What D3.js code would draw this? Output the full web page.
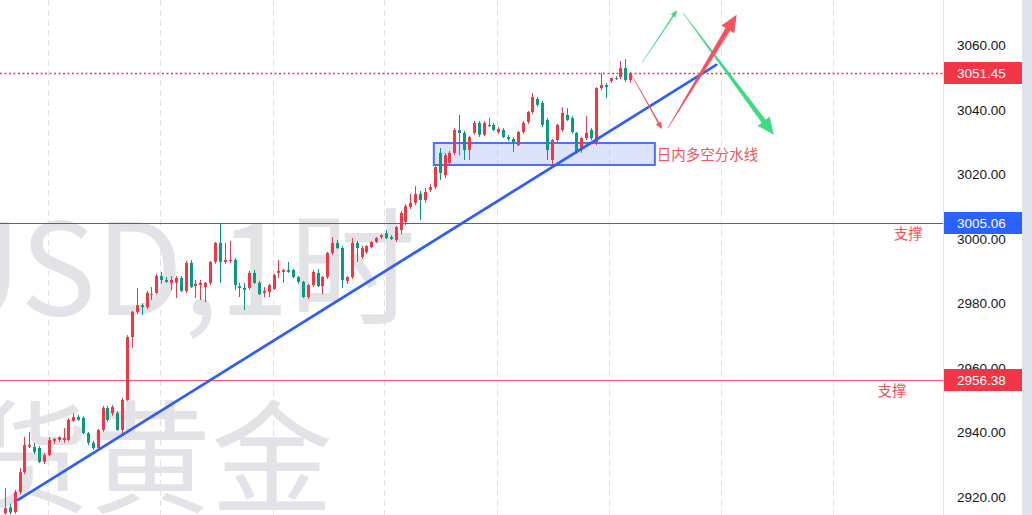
<!DOCTYPE html>
<html><head><meta charset="utf-8">
<script src="https://cdn.jsdelivr.net/npm/d3@7"></script>
<style>body{margin:0;background:#fff;overflow:hidden} svg{display:block}</style>
</head><body><svg id="c" width="1032" height="515"></svg>
<script>
// ---- data (1h candles, XAUUSD) ----
const opens=[2915.0,2916.8,2915.3,2921.5,2927.7,2935.6,2935.5,2935.2,2930.9,2933.0,2937.4,2937.7,2937.7,2937.7,2943.6,2944.8,2944.5,2939.8,2936.8,2935.2,2940.8,2947.6,2946.0,2946.0,2940.8,2950.1,2969.6,2977.4,2979.5,2978.9,2982.6,2983.3,2988.5,2987.3,2986.4,2986.4,2987.9,2983.9,2992.6,2985.4,2985.7,2985.1,2986.4,2992.9,2998.8,2992.9,2993.2,2993.5,2985.4,2984.8,2984.8,2989.5,2986.4,2983.3,2983.6,2984.5,2989.5,2989.8,2990.4,2990.4,2988.2,2986.7,2982.0,2985.7,2989.5,2985.4,2988.2,2995.7,2998.8,2997.2,2987.0,2988.2,2998.8,2994.4,2995.9,2997.5,2999.1,3000.6,3001.8,3000.6,2999.7,3002.8,3005.3,3009.9,3011.2,3014.0,3012.1,3015.2,3016.1,3026.7,3019.8,3023.6,3026.7,3033.8,3032.9,3027.6,3032.9,3036.0,3032.3,3035.4,3035.4,3033.2,3033.8,3031.6,3031.0,3029.1,3033.2,3036.3,3039.4,3043.4,3042.2,3036.9,3024.5,3030.7,3033.8,3038.5,3037.5,3032.9,3027.6,3031.3,3033.8,3029.8,3046.8,3047.7,3049.0,3049.9,3050.2,3053.0,3049.3];
const highs=[2922.8,2918.0,2922.2,2929.0,2938.6,2940.2,2936.8,2935.8,2933.6,2938.6,2938.3,2938.8,2941.4,2944.5,2946.0,2945.5,2945.0,2940.2,2937.4,2941.1,2948.2,2948.2,2948.5,2946.6,2950.7,2970.2,2977.7,2984.8,2980.1,2983.9,2985.1,2989.2,2989.8,2988.2,2988.5,2988.5,2988.5,2993.2,2993.5,2987.3,2987.3,2986.7,2993.2,2999.1,3005.0,2998.8,2999.4,2994.1,2986.4,2986.4,2990.1,2990.4,2987.0,2985.1,2986.1,2989.2,2993.5,2990.7,2992.9,2990.7,2988.5,2987.0,2986.1,2990.4,2990.7,2988.5,2996.0,3000.6,2999.7,2997.8,2988.5,3000.3,2999.4,2997.8,2998.1,2999.4,3000.6,3001.5,3002.8,3001.2,3004.0,3008.7,3010.8,3014.0,3016.4,3014.9,3015.8,3017.0,3022.6,3028.2,3026.7,3027.3,3034.4,3038.5,3033.5,3032.0,3036.6,3036.6,3036.6,3037.5,3036.0,3034.7,3034.4,3032.3,3031.6,3033.5,3036.6,3039.7,3045.3,3044.0,3042.8,3037.5,3031.0,3035.7,3040.9,3040.6,3038.1,3033.2,3031.6,3038.1,3034.4,3047.1,3051.5,3048.4,3049.9,3050.5,3055.2,3055.8,3051.8];
const lows=[2914.5,2914.6,2914.8,2920.9,2927.1,2935.2,2933.3,2930.5,2930.2,2932.7,2936.5,2937.1,2936.8,2937.4,2943.3,2943.6,2939.5,2936.1,2934.6,2934.9,2940.2,2943.3,2945.2,2940.5,2939.2,2949.8,2966.2,2976.8,2976.4,2978.3,2981.1,2982.9,2986.1,2986.4,2984.2,2981.7,2983.6,2983.3,2984.8,2981.7,2981.1,2980.4,2985.7,2992.3,2986.4,2992.3,2992.6,2984.2,2982.0,2977.9,2984.2,2986.1,2982.6,2982.0,2982.0,2984.2,2987.9,2986.4,2989.5,2987.9,2986.1,2981.7,2981.4,2985.1,2985.1,2982.9,2987.6,2995.1,2996.9,2984.8,2986.1,2987.6,2992.9,2993.8,2995.4,2997.2,2998.8,3000.0,3000.0,2999.7,2999.1,3001.5,3004.3,3009.3,3010.5,3005.9,3011.2,3014.6,3015.5,3018.3,3018.9,3023.0,3026.0,3026.0,3024.5,3024.5,3032.3,3031.6,3031.9,3034.7,3033.5,3032.6,3031.3,3030.4,3027.0,3028.8,3032.6,3035.7,3038.8,3041.0,3034.7,3024.5,3023.0,3030.1,3033.2,3036.6,3032.6,3026.4,3026.7,3030.7,3030.7,3029.1,3046.2,3043.7,3048.4,3049.3,3049.6,3048.7,3048.4];
const closes=[2916.5,2915.2,2921.5,2927.7,2936.1,2936.2,2934.0,2930.9,2933.0,2937.7,2938.0,2938.6,2938.3,2943.9,2944.8,2943.9,2939.8,2936.8,2935.2,2940.8,2947.6,2943.9,2947.9,2940.8,2950.1,2969.6,2977.4,2979.5,2978.9,2983.3,2982.9,2988.5,2987.3,2986.7,2987.3,2987.9,2983.9,2992.6,2985.1,2986.1,2986.4,2986.4,2992.9,2998.8,2992.9,2993.5,2993.5,2985.7,2984.8,2984.2,2989.5,2986.4,2982.9,2983.9,2985.7,2988.8,2990.1,2990.4,2989.8,2988.2,2986.7,2982.0,2985.7,2989.8,2985.4,2988.2,2995.7,2998.8,2997.2,2987.3,2988.2,2998.8,2997.2,2997.2,2997.8,2999.1,3000.3,3001.2,3000.3,3000.0,3003.7,3008.1,3010.2,3011.2,3014.0,3012.1,3014.6,3016.1,3022.3,3020.5,3026.0,3026.7,3033.8,3032.9,3027.6,3031.6,3036.0,3032.3,3036.0,3035.0,3033.8,3034.1,3031.6,3031.0,3029.8,3033.2,3036.0,3039.4,3044.0,3041.6,3035.4,3027.6,3030.7,3035.4,3039.1,3036.9,3033.2,3027.0,3031.3,3032.9,3031.3,3046.8,3047.7,3047.1,3049.9,3049.6,3053.0,3049.3,3051.45];

const priceTicks=[2920,2940,2960,2980,3000,3020,3040,3060];
const gridIdx=[8.8,31.8,54.8,77.7,100.7,123.6,146.6,169.5];

const levelValues=[3051.45,3005.06,2956.38];
const levelColors=["#f23645","#2962ff","#f23645"];
const supportValues=[3005.06,2956.38];
const supportIdx=[184.9,181.6];
const supportText="支撑";

const trendIdx=[2.7,145.6];
const trendPrice=[2919.1,3054.0];

const boxIdx=[87.8,133.05];
const boxPrice=[3022.95,3029.77];
const boxText="日内多空分水线";

// arrows: start / end as [candle index, price]
const arrowStart=[[130.4,3054.6],[138.8,3070.1],[128.3,3050.9],[135.7,3034.4]];
const arrowEnd=[[137.6,3071.0],[157.4,3032.3],[134.5,3034.1],[149.8,3069.5]];
const arrowColors=["#3ddb84","#3ddb84","#f7525f","#f7525f"];
const arrowSize=[[1.6,6,7],[5,15,17],[1.6,6,7],[5.5,15,17]]; // shaft, headW, headL

const wmLine1="XAUUSD,1时";
const wmLine2="现货黄金";

// ---- drawing ----
const W=1032,H=515,plotR=943,axisR=1022;
const svg=d3.select("#c");
const x=d3.scaleLinear().domain([0,128]).range([4.9,630.2]);
const y=d3.scaleLinear().domain([2920,3060]).range([497,45.5]);

svg.append("rect").attr("width",W).attr("height",H).attr("fill","#fff");
svg.append("defs").append("clipPath").attr("id","pc").append("rect").attr("width",plotR).attr("height",H);
const g=svg.append("g").attr("clip-path","url(#pc)");

// watermark
g.append("text").attr("x",416).attr("y",315).attr("text-anchor","end")
 .attr("font-family","'Noto Sans CJK SC','Noto Sans',sans-serif").attr("font-size",127)
 .attr("fill","#e3e3e7").text(wmLine1);
g.append("text").attr("x",333).attr("y",503).attr("text-anchor","end")
 .attr("font-family","'Noto Sans CJK SC',sans-serif").attr("font-size",122)
 .attr("fill","#e3e3e7").text(wmLine2);

// vertical grid
g.selectAll(".vg").data(gridIdx).join("line")
 .attr("x1",d=>Math.round(x(d))+0.5).attr("x2",d=>Math.round(x(d))+0.5)
 .attr("y1",0).attr("y2",H).attr("stroke","#dfe2ea").attr("stroke-width",1)
 .attr("stroke-dasharray","6,4");

// horizontal levels
g.append("line").attr("x1",0).attr("x2",plotR).attr("y1",Math.round(y(levelValues[0]))+0.5).attr("y2",Math.round(y(levelValues[0]))+0.5)
 .attr("stroke","#f23645").attr("stroke-width",1.3).attr("stroke-dasharray","2,2.5");
g.append("line").attr("x1",0).attr("x2",plotR).attr("y1",Math.round(y(levelValues[1]))+0.5).attr("y2",Math.round(y(levelValues[1]))+0.5)
 .attr("stroke","#2962ff").attr("stroke-width",1);
g.append("line").attr("x1",0).attr("x2",plotR).attr("y1",Math.round(y(levelValues[2]))+0.5).attr("y2",Math.round(y(levelValues[2]))+0.5)
 .attr("stroke","#f7525f").attr("stroke-width",1.2);

// box
g.append("rect").attr("x",x(boxIdx[0])).attr("y",y(boxPrice[1]))
 .attr("width",x(boxIdx[1])-x(boxIdx[0])).attr("height",y(boxPrice[0])-y(boxPrice[1]))
 .attr("fill","rgba(60,90,240,0.17)").attr("stroke","#4f6ff5").attr("stroke-width",2);

// candles
const data=opens.map((o,i)=>({i,o,h:highs[i],l:lows[i],c:closes[i]}));
const up="#f23645",dn="#089981";
const cg=g.append("g");
cg.selectAll(".w").data(data).join("line")
 .attr("x1",d=>Math.round(x(d.i))+0.5).attr("x2",d=>Math.round(x(d.i))+0.5)
 .attr("y1",d=>y(d.h)).attr("y2",d=>y(d.l))
 .attr("stroke",d=>d.c>=d.o?up:dn).attr("stroke-width",1);
cg.selectAll(".b").data(data).join("rect")
 .attr("x",d=>Math.round(x(d.i))-1).attr("width",3)
 .attr("y",d=>y(Math.max(d.o,d.c))).attr("height",d=>Math.max(1,Math.abs(y(d.o)-y(d.c))))
 .attr("fill",d=>d.c>=d.o?up:dn);

// trend line
g.append("line").attr("x1",x(trendIdx[0])).attr("y1",y(trendPrice[0]))
 .attr("x2",x(trendIdx[1])).attr("y2",y(trendPrice[1]))
 .attr("stroke","#2f5ff5").attr("stroke-width",2.8).attr("stroke-linecap","round");

// box text
g.append("text").attr("x",x(boxIdx[1])+2).attr("y",y((boxPrice[0]+boxPrice[1])/2))
 .attr("dominant-baseline","central").attr("font-family","'Noto Sans CJK SC',sans-serif")
 .attr("font-size",14.5).attr("fill","#f2545b").text(boxText);

// support labels
g.selectAll(".sp").data(supportValues).join("text")
 .attr("x",(d,i)=>x(supportIdx[i])).attr("y",d=>y(d)+16)
 .attr("text-anchor","middle").attr("font-family","'Noto Sans CJK SC',sans-serif")
 .attr("font-size",14.5).attr("fill","#f2545b").text(supportText);

// arrows
function arrowPath(x0,y0,x1,y1,shaft,hw,hl){
  const dx=x1-x0,dy=y1-y0,len=Math.hypot(dx,dy),ux=dx/len,uy=dy/len,px=-uy,py=ux;
  const bx=x1-ux*hl,by=y1-uy*hl;
  const t=0.3;
  const pts=[[x0+px*t,y0+py*t],[bx+px*shaft/2,by+py*shaft/2],[bx+px*hw/2,by+py*hw/2],[x1,y1],
             [bx-px*hw/2,by-py*hw/2],[bx-px*shaft/2,by-py*shaft/2],[x0-px*t,y0-py*t]];
  return "M"+pts.map(p=>p.join(",")).join("L")+"Z";
}
arrowStart.forEach((s,k)=>{
  const e=arrowEnd[k];
  g.append("path").attr("d",arrowPath(x(s[0]),y(s[1]),x(e[0]),y(e[1]),arrowSize[k][0],arrowSize[k][1],arrowSize[k][2]))
   .attr("fill",arrowColors[k]);
});

// right axis
svg.append("rect").attr("x",plotR).attr("y",0).attr("width",axisR-plotR).attr("height",H).attr("fill","#fff");
svg.append("rect").attr("x",axisR).attr("y",0).attr("width",W-axisR).attr("height",H).attr("fill","#e0e3eb");
svg.append("line").attr("x1",plotR+0.5).attr("x2",plotR+0.5).attr("y1",0).attr("y2",H).attr("stroke","#e0e3eb");
const ax=svg.append("g").attr("transform",`translate(${plotR},0)`)
 .call(d3.axisRight(y).tickValues(priceTicks).tickFormat(d3.format(".2f")).tickSize(0).tickPadding(14));
ax.select(".domain").remove();
ax.selectAll("text").attr("font-family","'Liberation Sans',Arial,sans-serif").attr("font-size",13.5).attr("fill","#131722");

// price labels
const lg=svg.append("g");
levelValues.forEach((v,k)=>{
  const yy=Math.round(y(v));
  lg.append("rect").attr("x",plotR+1).attr("y",yy-11).attr("width",axisR-plotR-1).attr("height",22).attr("fill",levelColors[k]);
  lg.append("text").attr("x",plotR+14).attr("y",yy+0.5).attr("dominant-baseline","central")
   .attr("font-family","'Liberation Sans',Arial,sans-serif").attr("font-size",13.5).attr("fill","#fff").text(d3.format(".2f")(v));
});
</script></body></html>
